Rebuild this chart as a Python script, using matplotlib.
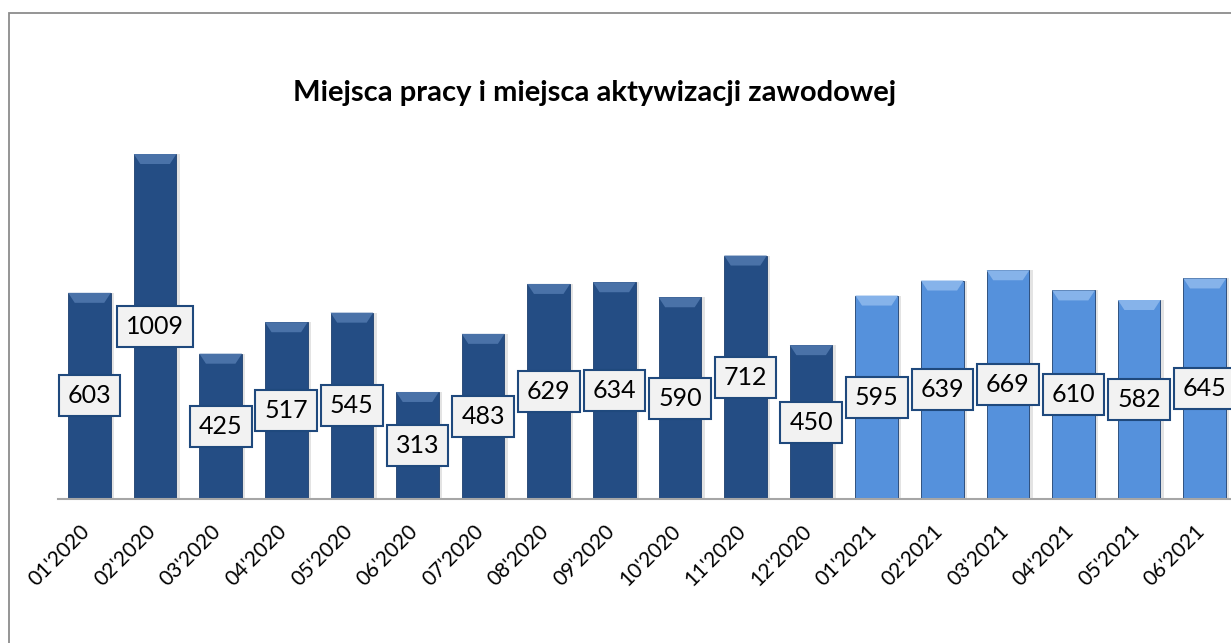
import numpy as np
import matplotlib.pyplot as plt
import matplotlib
from matplotlib.patches import Rectangle, Polygon
from matplotlib.transforms import ScaledTranslation

matplotlib.rc('font', family=['Lato', 'DejaVu Sans'])

months = ["01'2020", "02'2020", "03'2020", "04'2020", "05'2020", "06'2020",
          "07'2020", "08'2020", "09'2020", "10'2020", "11'2020", "12'2020",
          "01'2021", "02'2021", "03'2021", "04'2021", "05'2021", "06'2021"]
values = [603, 1009, 425, 517, 545, 313, 483, 629, 634, 590, 712, 450,
          595, 639, 669, 610, 582, 645]
years = [m[-4:] for m in months]

dark = '#244d84'
light = '#5591dc'
dark_top = '#4a72a8'
light_top = '#86b3ea'

W, H = 1231, 643
fig = plt.figure(figsize=(W/100, H/100), dpi=100)

# ramka wykresu (ucieta z prawej i z dolu)
fig.patches.append(Rectangle((9/W, -0.1), 1.2, 1.1 - 13/H, transform=fig.transFigure,
                             fill=False, edgecolor='#8c8c8c', linewidth=1.3))

px_per_unit = 345/1009
ymax = 1100
ax_h = ymax*px_per_unit
ax = fig.add_axes([58/W, (H-499)/H, (W-58)/W, ax_h/H])

x = np.arange(len(values))
bw = 0.65
cols = [dark if y == '2020' else light for y in years]
tops = [dark_top if y == '2020' else light_top for y in years]

# cien
ax.bar(x + 0.05, values, width=bw, color='#c8c8c8', alpha=0.5, zorder=1)
ax.bar(x, values, width=bw, color=cols, edgecolor='#1d3f6e', linewidth=0.6, zorder=2)

# skos na gorze slupka
bev = 10/px_per_unit
for xi, v, c in zip(x, values, tops):
    l, r = xi - bw/2, xi + bw/2
    ax.add_patch(Polygon([(l, v), (r, v), (r - 0.1, v - bev), (l + 0.1, v - bev)],
                         closed=True, facecolor=c, edgecolor='none', zorder=3))

for xi, v in zip(x, values):
    ax.text(xi, v/2, str(v), ha='center', va='center', fontsize=18, zorder=4,
            bbox=dict(boxstyle='square,pad=0.36', facecolor='#f2f2f2',
                      edgecolor='#1f497d', linewidth=1.5))

ax.set_xlim(-0.48, 17.4)
ax.set_ylim(0, ymax)
ax.set_yticks([])
ax.set_xticks(x)
ax.set_xticklabels(months, rotation=45, ha='right', rotation_mode='anchor', fontsize=15)
ax.tick_params(axis='x', length=0, pad=16)
shift = ScaledTranslation(-7/72, 0, fig.dpi_scale_trans)
for lab in ax.get_xticklabels():
    lab.set_transform(lab.get_transform() + shift)
for s in ['top', 'right', 'left']:
    ax.spines[s].set_visible(False)
ax.spines['bottom'].set_color('#a6a6a6')
ax.spines['bottom'].set_linewidth(1.5)

fig.text(595/W, 1 - 93/H, 'Miejsca pracy i miejsca aktywizacji zawodowej',
         ha='center', va='center', fontsize=21, fontweight='bold')

fig.savefig('out.png', dpi=100)
